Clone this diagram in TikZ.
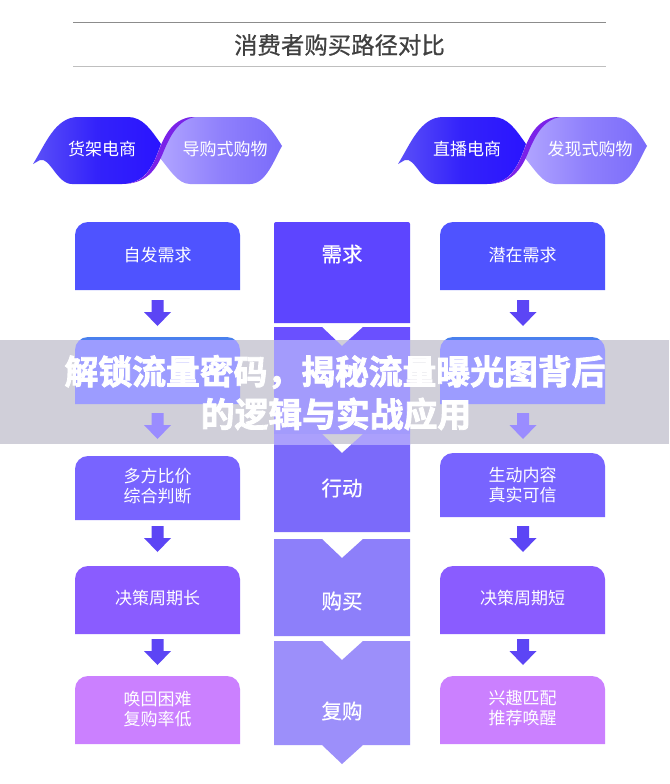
\documentclass[tikz,border=0pt]{standalone}
\usepackage{fontspec}
\setmainfont{Noto Sans CJK SC}
\newfontfamily\heavy[UprightFont=* Bold,FakeBold=2.4]{Noto Sans CJK SC}
\newfontfamily\medium[FakeBold=0.6]{Noto Sans CJK SC}
\usepackage{tikz}
\usetikzlibrary{calc}
\newcommand{\fs}[1]{\fontsize{#1}{#1}\selectfont}
\newcommand{\roundbox}[4]{\fill[#4,rounded corners=13pt] (#1,#3) [sharp corners] -- (#1,#2+13) [rounded corners=13pt] -- (#1,#2) -- (#1+165,#2) [sharp corners] -- (#1+165,#2+13) -- (#1+165,#3) -- cycle;}
\newcommand{\flowarrow}[3]{\fill[#3] (#1-6,#2) -- (#1+6,#2) -- (#1+6,#2+12) -- (#1+13.5,#2+12) -- (#1,#2+26) -- (#1-13.5,#2+12) -- (#1-6,#2+12) -- cycle;}
\newcommand{\notchblock}[3]{\fill[#3] (274,#1) -- (322,#1) -- (342,#1+19) -- (363,#1) -- (410,#1) -- (410,#2) -- (274,#2) -- cycle;}
\definecolor{bandgray}{HTML}{D0CFD9}
\definecolor{boxa}{HTML}{4F53FF}
\definecolor{boxb}{HTML}{4A80EE}
\definecolor{boxbband}{HTML}{9C9CFF}
\definecolor{boxc}{HTML}{7864FF}
\definecolor{boxd}{HTML}{8A5CFF}
\definecolor{boxe}{HTML}{CB80FF}
\definecolor{arrowc}{HTML}{5C45F5}
\definecolor{arrowband}{HTML}{9A8CFF}
\definecolor{blocka}{HTML}{5D45FF}
\definecolor{blockb}{HTML}{6A50FF}
\definecolor{blockbband}{HTML}{A39BFC}
\definecolor{blockc}{HTML}{7B6AFA}
\definecolor{blockcband}{HTML}{ABA0FC}
\definecolor{blockd}{HTML}{8D7FFA}
\definecolor{blocke}{HTML}{9C8FFA}
\definecolor{ribbon}{HTML}{7A22E8}
\definecolor{darkl}{HTML}{5B50F8}
\definecolor{darkm}{HTML}{3322FA}
\definecolor{darkr}{HTML}{2A14FF}
\definecolor{lightl}{HTML}{B0A4FF}
\definecolor{lightm}{HTML}{8F80FC}
\definecolor{lightr}{HTML}{7A6BFA}
\tikzset{
  boxlabel/.style={text=white,align=center,font=\fs{17},inner sep=0pt},
  blocklabel/.style={text=white,font=\medium\fs{20.5},inner sep=0pt},
  pairlabel/.style={text=white,font=\fs{17},inner sep=0pt},
  bannerlabel/.style={text=white,font=\heavy\fs{33.8},inner sep=0pt}
}
\begin{document}
\begin{tikzpicture}[x=1pt,y=-1pt]
                    \useasboundingbox (0,0) rectangle (669,784);
                    \fill[white] (0,0) rectangle (669,784);
                    % heading
                    \draw[black!45,line width=0.8pt] (73,22.5) -- (606,22.5);
                    \draw[black!25,line width=1.8pt] (73,66.5) -- (606,66.5);
                    \node[text=black!75,font=\medium\fs{23.4},inner sep=0pt] (heading) at (339.5,45) {消费者购买路径对比};
                    % twisted pairs
                    \foreach \s/\pa/\pb in {0/货架电商/导购式购物,365/直播电商/发现式购物}{
                    \begin{scope}[xshift=\s pt]
                    \shade[left color=darkl,right color=darkr,middle color=darkm] (33,164) .. controls (45,145) and (55,117) .. (78,117) -- (128,117) .. controls (143,117) and (151,130) .. (161,144) .. controls (155,160) and (148,184) .. (122,184) -- (72,184) .. controls (57,184) and (50,157) .. (40,160) -- cycle;
                    \shade[left color=lightl,right color=lightr,middle color=lightm] (192,117) -- (250,117) .. controls (264,117) and (274,133) .. (282,146) .. controls (274,160) and (266,184) .. (250,184) -- (190,184) .. controls (178,184) and (170,170) .. (160,158) .. controls (168,140) and (175,117) .. (192,117) -- cycle;
                    \fill[ribbon] (122,184) .. controls (146,184) and (153,165) .. (159,150) .. controls (165,134) and (174,117) .. (195,117) .. controls (178,120) and (170,136) .. (163,153) .. controls (156,170) and (146,184) .. (122,184) -- cycle;
                    \node[pairlabel] (pairl\s) at (102,149) {\pa};
                    \node[pairlabel] (pairr\s) at (225,149) {\pb};
                    \end{scope}
                    }
                    % side columns
                    \foreach \x in {75,440}{
                    \roundbox{\x}{222}{290}{boxa}
                    \roundbox{\x}{337}{404}{boxb}
                    \roundbox{\x}{566}{634}{boxd}
                    \roundbox{\x}{676}{744}{boxe}
                    }
                    \roundbox{75}{456}{520}{boxc}
                    \roundbox{440}{453}{517}{boxc}
                    \foreach \x in {157.5,523}{
                    \flowarrow{\x}{300}{arrowc}
                    \flowarrow{\x}{526}{arrowc}
                    \flowarrow{\x}{639}{arrowc}
                    }
                    % middle column
                    \fill[blocka] (274,323) -- (274,224) [rounded corners=2pt] -- (274,222) -- (410,222) [sharp corners] -- (410,323) -- cycle;
                    \notchblock{327}{434}{blockb}
                    \notchblock{434}{532}{blockc}
                    \notchblock{539}{636}{blockd}
                    \fill[blocke] (274,641) -- (322,641) -- (342,660) -- (363,641) -- (410,641) -- (410,745) -- (363,745) -- (342,764) -- (322,745) -- (274,745) -- cycle;
                    % grey band across the page
                    \fill[bandgray] (0,340) rectangle (669,444);
                    \begin{scope}
                    \clip (0,340) rectangle (669,444);
                    \foreach \x in {75,440}{
                    \roundbox{\x}{337}{404}{boxbband}
                    }
                    \foreach \x in {157.5,523}{
                    \flowarrow{\x}{413}{arrowband}
                    }
                    \notchblock{327}{434}{blockbband}
                    \notchblock{434}{532}{blockcband}
                    \end{scope}
                    % texts of the columns
                    \node[boxlabel] (wantl) at (157.5,255) {自发需求};
                    \node[boxlabel] (wantr) at (522.5,255) {潜在需求};
                    \node[boxlabel] (comparel) at (157.5,486) {多方比价\\[3.5pt]综合判断};
                    \node[boxlabel] (comparer) at (522.5,485) {生动内容\\[3.5pt]真实可信};
                    \node[boxlabel] (cyclel) at (157.5,598) {决策周期长};
                    \node[boxlabel] (cycler) at (522.5,598) {决策周期短};
                    \node[boxlabel] (backl) at (157.5,709) {唤回困难\\[3.5pt]复购率低};
                    \node[boxlabel] (backr) at (522.5,708) {兴趣匹配\\[3.5pt]推荐唤醒};
                    \node[blocklabel] (need) at (342,254) {需求};
                    \node[blocklabel] (act) at (342,488) {行动};
                    \node[blocklabel] (buy) at (342,601) {购买};
                    \node[blocklabel] (again) at (342,711) {复购};
                    % banner
                    \node[bannerlabel] (bannera) at (335,372) {解锁流量密码，揭秘流量曝光图背后};
                    \node[bannerlabel] (bannerb) at (336,414) {的逻辑与实战应用};
                    \end{tikzpicture}
\end{document}
